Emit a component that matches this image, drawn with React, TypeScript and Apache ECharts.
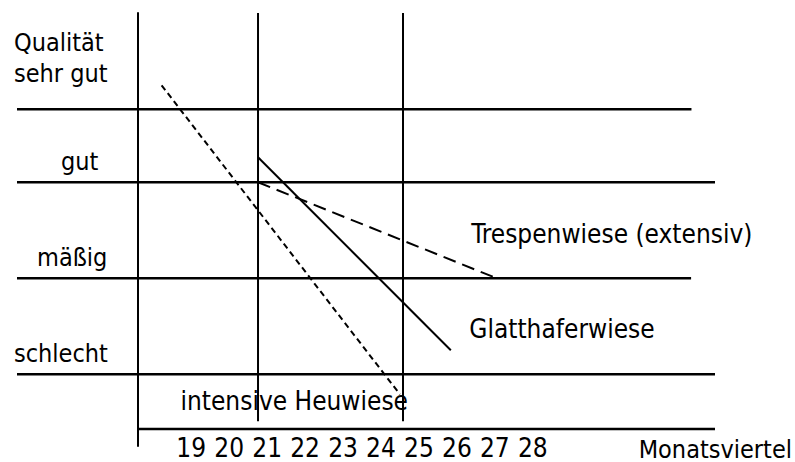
import React, { useEffect, useRef } from "react";
import * as echarts from "echarts";

const FONT = "'DejaVu Sans Condensed', 'Liberation Sans', Arial, sans-serif";

// x axis: month quarters ("Monatsviertel")
const monthQuarterTicks = [19, 20, 21, 22, 23, 24, 25, 26, 27, 28];
const xMin = 14.41;
const xMax = 32.8;
const axisOriginX = 17.6;

// y axis: quality scale
const yMin = -0.177;
const yMax = 4.333;
const qualityNames = ["schlecht", "mäßig", "gut", "sehr gut"];
const qualityLevels = [0.57, 1.57, 2.57, 3.33];
const levelLineEndX = [32.8, 32.17, 32.8, 32.18];

// vertical guide lines
const guideWeeks = [20.76, 24.58];
const guideBottom = 0.08;

// meadow types
const heuwieseName = "intensive Heuwiese";
const heuwieseX = [18.22, 24.5];
const heuwieseY = [3.58, 0.36];

const glatthaferName = "Glatthaferwiese";
const glatthaferX = [20.76, 25.84];
const glatthaferY = [2.83, 0.82];

const trespenName = "Trespenwiese (extensiv)";
const trespenX = [20.76, 27.05];
const trespenY = [2.57, 1.57];

const zip = (xs: number[], ys: number[]) => xs.map((x, i) => [x, ys[i]]);

function plainLine(name: string, data: number[][], width: number, type: any = "solid"): any {
  return {
    type: "line",
    name,
    data,
    symbol: "none",
    clip: false,
    silent: true,
    lineStyle: { color: "#000", width, type },
    z: 3,
  };
}

function meadowLine(name: string, xs: number[], ys: number[], type: any, offset: number[]): any {
  const pts = zip(xs, ys);
  return {
    ...plainLine(name, pts, 2, type),
    z: 5,
    markPoint: {
      silent: true,
      symbol: "circle",
      symbolSize: 1,
      itemStyle: { color: "transparent" },
      data: [{ coord: pts[pts.length - 1] }],
      label: {
        show: true,
        position: "right",
        distance: 5,
        offset,
        formatter: name,
        color: "#000",
        fontSize: 26,
        fontFamily: FONT,
      },
    },
  };
}

export default function App() {
  const ref = useRef<HTMLDivElement>(null);
  useEffect(() => {
    if (!ref.current) return;
    const chart = echarts.init(ref.current, null, { renderer: "svg" });

    const series: any[] = [];
    // x axis line (starts at the y axis)
    series.push(plainLine("x-axis", [[axisOriginX, 0], [xMax, 0]], 2.5));
    qualityLevels.forEach((lv, i) => {
      series.push(plainLine(qualityNames[i], [[xMin, lv], [levelLineEndX[i], lv]], 2.5));
    });
    guideWeeks.forEach((w) => {
      series.push(plainLine("guide" + w, [[w, guideBottom], [w, yMax]], 2));
    });
    series.push(meadowLine(heuwieseName, heuwieseX, heuwieseY, [6, 4], [-225, 7]));
    series.push(meadowLine(glatthaferName, glatthaferX, glatthaferY, "solid", [13, -21]));
    series.push(meadowLine(trespenName, trespenX, trespenY, [13, 7], [-31, -44]));

    const T = { fontFamily: FONT, color: "#000", fontSize: 25 };

    chart.setOption({
      animation: false,
      backgroundColor: "#fff",
      grid: { left: 17, right: 80, top: 13, bottom: 16, containLabel: false, outerBoundsMode: "none" },
      xAxis: {
        type: "value",
        min: xMin,
        max: xMax,
        name: "Monatsviertel",
        nameLocation: "end",
        nameGap: 77,
        nameTextStyle: {
          align: "right",
          verticalAlign: "top",
          padding: [8, 0, 0, 0],
          color: "#000",
          fontSize: 25,
          fontFamily: FONT,
        },
        axisLine: { show: true, onZero: true, lineStyle: { color: "transparent", width: 0 } },
        axisTick: { show: false },
        splitLine: { show: false },
        axisLabel: {
          customValues: monthQuarterTicks,
          formatter: (v: number) => String(v),
          margin: -11,
          color: "#000",
          fontSize: 26,
          fontFamily: FONT,
        },
      },
      yAxis: {
        type: "value",
        min: yMin,
        max: yMax,
        offset: -121,
        axisLine: { show: true, onZero: false, lineStyle: { color: "#000", width: 2 } },
        axisTick: { show: false },
        splitLine: { show: false },
        axisLabel: {
          customValues: qualityLevels,
          align: "left",
          verticalAlign: "bottom",
          margin: 124,
          ...T,
          formatter: (v: number) => {
            const i = qualityLevels.findIndex((l) => Math.abs(l - v) < 1e-6);
            if (i === 3) return "{q|Qualität}\n{q|" + qualityNames[3] + "}\n{sp| }";
            if (i === 2) return "{g|" + qualityNames[2] + "}";
            if (i === 1) return "{m|" + qualityNames[1] + "}";
            return "{s|" + qualityNames[0] + "}";
          },
          rich: {
            q: { ...T, lineHeight: 31 },
            sp: { ...T, fontSize: 10, lineHeight: 20 },
            g: { ...T, lineHeight: 41, padding: [0, 0, 0, 47] },
            m: { ...T, lineHeight: 41, padding: [0, 0, 0, 23] },
            s: { ...T, lineHeight: 41 },
          },
        },
      },
      series,
    });
    return () => chart.dispose();
  }, []);
  return (
    <div
      ref={ref}
      style={{ position: "fixed", left: 0, top: 0, width: 795, height: 462, background: "#fff" }}
    />
  );
}
